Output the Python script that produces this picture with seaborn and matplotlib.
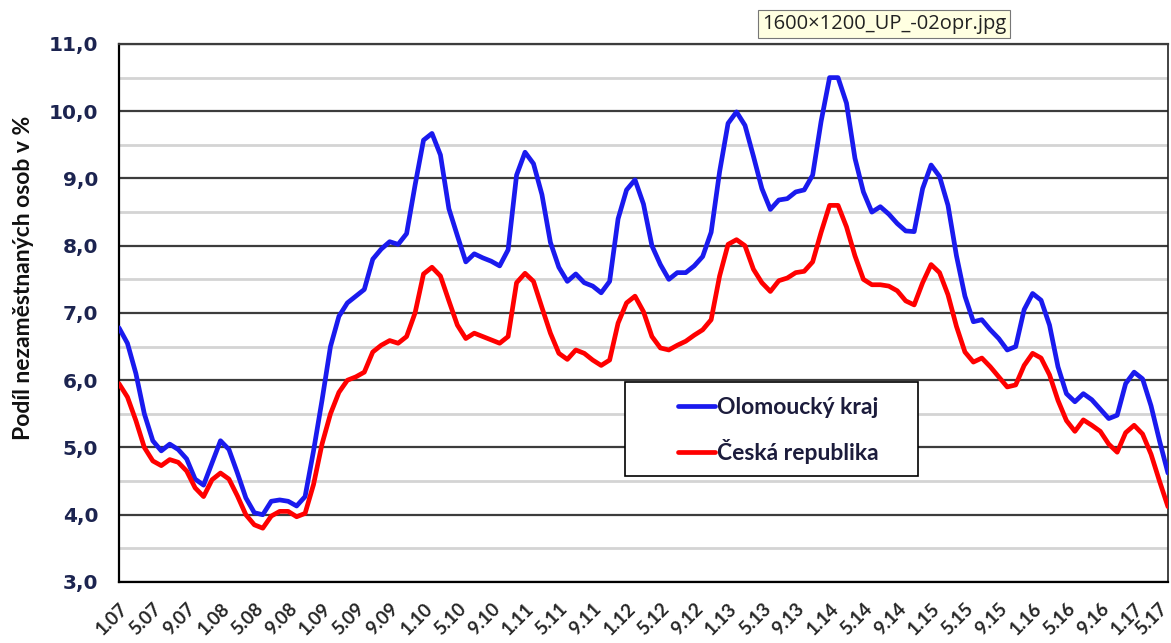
import numpy as np
import pandas as pd
import matplotlib
matplotlib.use("Agg")
import matplotlib.pyplot as plt
import matplotlib.transforms as mtransforms
import seaborn as sns
from matplotlib.patches import Rectangle
from matplotlib.ticker import MultipleLocator, FixedLocator

# --- data: monthly values 1/2007 .. 5/2017 ---
OLOMOUC = [
    6.78, 6.55, 6.10, 5.50, 5.10, 4.95, 5.05, 4.97, 4.83, 4.53, 4.44, 4.77,   # 2007
    5.10, 4.97, 4.62, 4.25, 4.03, 4.00, 4.20, 4.22, 4.20, 4.13, 4.27, 4.95,   # 2008
    5.70, 6.50, 6.95, 7.15, 7.25, 7.35, 7.80, 7.95, 8.06, 8.02, 8.18, 8.90,   # 2009
    9.57, 9.67, 9.35, 8.55, 8.15, 7.76, 7.88, 7.82, 7.77, 7.70, 7.94, 9.05,   # 2010
    9.39, 9.22, 8.76, 8.05, 7.68, 7.47, 7.58, 7.45, 7.40, 7.30, 7.47, 8.40,   # 2011
    8.83, 8.98, 8.62, 8.00, 7.72, 7.50, 7.60, 7.60, 7.70, 7.84, 8.20, 9.10,   # 2012
    9.82, 9.99, 9.79, 9.33, 8.85, 8.54, 8.68, 8.70, 8.80, 8.83, 9.05, 9.85,   # 2013
    10.50, 10.50, 10.12, 9.30, 8.80, 8.50, 8.58, 8.47, 8.33, 8.22, 8.21, 8.85,  # 2014
    9.20, 9.03, 8.60, 7.85, 7.25, 6.87, 6.90, 6.75, 6.62, 6.45, 6.50, 7.05,   # 2015
    7.29, 7.19, 6.82, 6.20, 5.80, 5.68, 5.80, 5.71, 5.57, 5.43, 5.48, 5.95,   # 2016
    6.12, 6.02, 5.62, 5.10, 4.62,                                             # 2017
]
CR = [
    5.95, 5.75, 5.40, 5.00, 4.80, 4.73, 4.82, 4.78, 4.65, 4.40, 4.27, 4.52,
    4.62, 4.53, 4.28, 4.00, 3.85, 3.80, 3.98, 4.05, 4.05, 3.97, 4.02, 4.45,
    5.05, 5.50, 5.82, 6.00, 6.05, 6.12, 6.42, 6.52, 6.59, 6.55, 6.65, 7.00,
    7.58, 7.68, 7.55, 7.18, 6.82, 6.62, 6.70, 6.65, 6.60, 6.55, 6.65, 7.45,
    7.59, 7.47, 7.08, 6.70, 6.40, 6.31, 6.45, 6.40, 6.30, 6.22, 6.30, 6.85,
    7.15, 7.25, 7.02, 6.65, 6.48, 6.45, 6.52, 6.58, 6.67, 6.75, 6.90, 7.55,
    8.02, 8.09, 8.00, 7.65, 7.45, 7.32, 7.48, 7.52, 7.60, 7.62, 7.76, 8.20,
    8.60, 8.60, 8.28, 7.85, 7.50, 7.42, 7.42, 7.40, 7.33, 7.18, 7.12, 7.45,
    7.72, 7.60, 7.27, 6.80, 6.42, 6.27, 6.33, 6.20, 6.05, 5.90, 5.93, 6.22,
    6.40, 6.33, 6.08, 5.70, 5.40, 5.24, 5.41, 5.33, 5.24, 5.05, 4.93, 5.22,
    5.33, 5.20, 4.90, 4.50, 4.12,
]
TICK_LABELS = [
    "1.07", "5.07", "9.07", "1.08", "5.08", "9.08", "1.09", "5.09", "9.09",
    "1.10", "5.10", "9.10", "1.11", "5.11", "9.11", "1.12", "5.12", "9.12",
    "1.13", "5.13", "9.13", "1.14", "5.14", "9.14", "1.15", "5.15", "9.15",
    "1.16", "5.16", "9.16", "1.17", "5.17",
]
SERIES = ["Olomoucký kraj", "Česká republika"]
COLORS = {"Olomoucký kraj": "#1a1aee", "Česká republika": "#ff0000"}

sns.set_style("white")
plt.rcParams["font.family"] = ["DejaVu Sans"]

n = len(OLOMOUC)
df = pd.DataFrame({
    "month": list(range(n)) * 2,
    "value": OLOMOUC + CR,
    "series": [SERIES[0]] * n + [SERIES[1]] * n,
})

fig = plt.figure(figsize=(11.71, 6.43), dpi=100)
ax = fig.add_axes([0.1016, 0.0949, 0.8958, 0.8367])

sns.lineplot(data=df, x="month", y="value", hue="series", palette=COLORS,
             linewidth=3.4, ax=ax, legend=False, zorder=3)

ax.set_xlim(0, n - 1)
ax.set_ylim(3, 11)

# y axis: majors outside, halves inside with light grid
ax.yaxis.set_major_locator(MultipleLocator(1))
ax.yaxis.set_minor_locator(MultipleLocator(0.5))
ax.set_yticklabels([f"{v:.1f}".replace(".", ",") for v in ax.get_yticks()])
ax.grid(axis="y", which="major", color="#3c3c3c", linewidth=1.6, zorder=1)
ax.grid(axis="y", which="minor", color="#d4d4d4", linewidth=2.0, zorder=1)
ax.tick_params(axis="y", which="major", direction="out", length=9, width=1.5,
               color="black", pad=6, labelsize=14.5, labelcolor="#1c2450")
ax.tick_params(axis="y", which="minor", direction="in", length=8, width=1.5,
               color="#444444")
for t in ax.get_yticklabels():
    t.set_fontweight("bold")

# x axis: every 4 months
ax.xaxis.set_major_locator(FixedLocator(np.arange(0, n, 4)))
ax.set_xticklabels(TICK_LABELS, rotation=45, ha="right", rotation_mode="anchor",
                   fontsize=13.5, fontweight="bold", family=["Lato", "DejaVu Sans"])
ax.tick_params(axis="x", which="major", direction="out", length=9, width=1.5,
               color="black", pad=4)
# nudge the last label so it stays inside the picture
last = ax.get_xticklabels()[-1]
last.set_transform(last.get_transform() +
                   mtransforms.ScaledTranslation(-10 / 100, 0, fig.dpi_scale_trans))
ax.set_xlabel("")
ax.set_ylabel("Podíl nezaměstnaných osob v %", fontsize=16.5, fontweight="bold",
              family=["Lato", "DejaVu Sans"], color="#111111")
ax.yaxis.set_label_coords(-0.081, 0.565)

for side in ["left", "bottom"]:
    ax.spines[side].set_color("black")
    ax.spines[side].set_linewidth(1.6)
ax.spines["right"].set_color("#222222")
ax.spines["right"].set_linewidth(1.2)
ax.spines["top"].set_color("#3c3c3c")
ax.spines["top"].set_linewidth(1.6)

# legend box
ax.add_patch(Rectangle((0.4824, 0.1964), 0.2793, 0.1747, transform=ax.transAxes,
                       facecolor="white", edgecolor="black", linewidth=1.2, zorder=4))
handles = ax.get_lines()[:2]
leg = ax.legend(handles, SERIES, loc="center left", bbox_to_anchor=(0.5224, 0.2816),
                frameon=False, borderpad=0, handlelength=1.6, handletextpad=0.1,
                labelspacing=0.95, prop={"family": ["Lato", "DejaVu Sans"],
                                         "weight": "bold", "size": 16.5})
leg.set_zorder(5)
for t in leg.get_texts():
    t.set_color("#1c1c3c")

# screenshot tooltip
fig.text(762 / 1171, 1 - 24 / 643, "1600×1200_UP_-02opr.jpg", fontsize=14.5,
         va="center", ha="left", family=["Open Sans", "DejaVu Sans"], color="#222222",
         bbox=dict(boxstyle="square,pad=0.2", facecolor="#ffffe1",
                   edgecolor="#777777", linewidth=0.8))

fig.savefig("out.png", dpi=100)
